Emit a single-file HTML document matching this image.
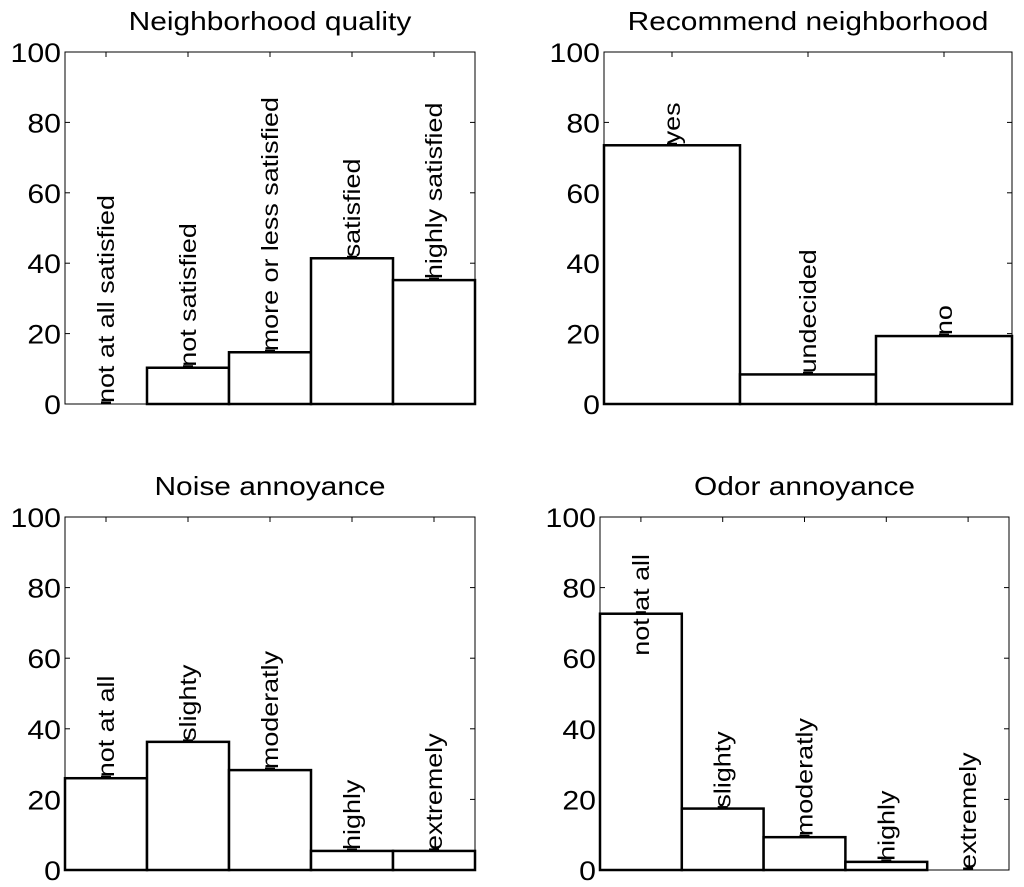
<!DOCTYPE html>
<html><head><meta charset="utf-8"><style>
body{margin:0;background:#fff}
svg{display:block;font-family:"Liberation Sans",sans-serif}
</style></head><body>
<svg id="c" width="1024" height="887" viewBox="0 0 1024 887" xmlns="http://www.w3.org/2000/svg"></svg>
<script>
const qualityCats=["not at all satisfied","not satisfied","more or less satisfied","satisfied","highly satisfied"];
const qualityVals=[0,10.3,14.7,41.4,35.2];
const recommendCats=["yes","undecided","no"];
const recommendVals=[73.5,8.4,19.3];
const noiseCats=["not at all","slighty","moderatly","highly","extremely"];
const noiseVals=[26,36.3,28.3,5.4,5.4];
const odorCats=["not at all","slighty","moderatly","highly","extremely"];
const odorVals=[72.6,17.4,9.3,2.3,0];
const yTicks=[0,20,40,60,80,100];

const svg=document.getElementById('c');
const NS='http://www.w3.org/2000/svg';
const STRETCH=1.18;
function mk(t,a,p){const e=document.createElementNS(NS,t);for(const k in a)e.setAttribute(k,a[k]);(p||svg).appendChild(e);return e;}
function stretch(t,f){const w=t.getComputedTextLength();t.setAttribute('textLength',w*f);t.setAttribute('lengthAdjust','spacingAndGlyphs');}

function panel(name,title,cats,vals,x0,x1,y0,y1,insideFirst){
  const g=mk('g',{});
  
  
  const ys=v=>y1-(v/100)*(y1-y0);
  const bw=(x1-x0)/cats.length;
  const t=mk('text',{x:(x0+x1)/2,y:y0-22,'text-anchor':'middle','font-size':26},g);
  t.textContent=title;
  
  
  stretch(t,1.15);
  mk('rect',{x:x0,y:y0,width:x1-x0,height:y1-y0,fill:'none',stroke:'#000','stroke-width':1},g);
  yTicks.forEach(v=>{
    const y=ys(v);
    mk('line',{x1:x0,x2:x0+5,y1:y,y2:y,stroke:'#000'},g);
    mk('line',{x1:x1,x2:x1-5,y1:y,y2:y,stroke:'#000'},g);
    const l=mk('text',{x:x0-4,y:y+10,'text-anchor':'end','font-size':27},g);
    l.textContent=v;
    
    
    stretch(l,1.12);
  });
  cats.forEach((c,i)=>{
    const bx=x0+i*bw, cx=bx+bw/2, by=ys(vals[i]);
    mk('line',{x1:cx,x2:cx,y1:y0,y2:y0+5,stroke:'#000'},g);
    const r=mk('rect',{x:bx,y:by,width:bw,height:y1-by,fill:'#fff',stroke:'#000','stroke-width':2.5},g);
    
    
    mk('line',{x1:cx-5,x2:cx+5,y1:by-1,y2:by-1,stroke:'#000','stroke-width':3},g);
    const ly=(insideFirst&&i===0)?by+42:by-1;
    const lt=mk('text',{x:0,y:0,'font-size':23,transform:`translate(${cx+8},${ly}) rotate(-90)`},g);
    lt.textContent=c;
    
    
    stretch(lt,1.17);
  });
}
panel('neighborhood-quality','Neighborhood quality',qualityCats,qualityVals,65,475,52,404,false);
panel('recommend-neighborhood','Recommend neighborhood',recommendCats,recommendVals,604,1012,52,404,false);
panel('noise-annoyance','Noise annoyance',noiseCats,noiseVals,65,475,517,870,false);
panel('odor-annoyance','Odor annoyance',odorCats,odorVals,600,1009,517,870,true);
</script>
</body></html>
